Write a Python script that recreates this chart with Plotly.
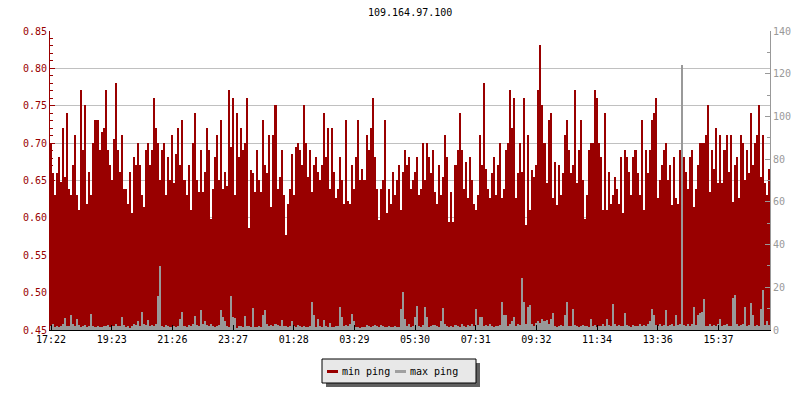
import plotly.graph_objects as go

TITLE = "109.164.97.100"
RED = "#990000"
GREY = "#999999"
FONT = "DejaVu Sans Mono"

# min ping in seconds x 1000 (left axis), one value per sample
min_ping_ms = [
    700, 660, 630, 660, 682, 648, 720, 655, 740, 639, 630, 671, 711, 630, 610, 771, 691, 751, 619, 662,
    630, 700, 731, 731, 691, 715, 720, 771, 691, 671, 651, 706, 780, 691, 662, 711, 639, 639, 619, 662,
    606, 682, 671, 700, 671, 630, 615, 691, 700, 671, 691, 760, 720, 700, 651, 691, 700, 630, 682, 651,
    711, 646, 686, 720, 671, 731, 651, 630, 671, 610, 700, 740, 651, 635, 691, 635, 662, 720, 691, 599,
    639, 682, 711, 651, 731, 639, 662, 642, 771, 695,
    760, 630, 740, 682, 720, 691, 700, 760, 586, 664, 660, 635, 691, 651, 635, 731, 671, 660, 711, 615,
    711, 751, 639, 655, 691, 630, 577, 619, 639, 686, 630, 695, 700, 691, 671, 751, 700, 655, 691, 635,
    671, 682, 662, 651, 671, 740, 682, 720, 639, 720, 662, 626, 639, 682, 651, 619, 731, 622, 619, 671,
    639, 682, 731, 651, 666, 651, 711, 691, 720, 760, 682, 639, 597, 639, 651, 731, 606, 639, 619, 662,
    630, 651, 671, 610, 662, 691, 671, 682, 639,
    651, 662, 682, 630, 639, 700, 651, 700, 682, 660, 691, 635, 619, 671, 630, 655, 711, 682, 595, 635,
    595, 671, 691, 740, 691, 639, 675, 626, 682, 651, 619, 610, 630, 711, 671, 780, 666, 639, 626, 660,
    682, 630, 671, 700, 626, 639, 691, 700, 771, 720, 760, 626, 660, 700, 662, 760, 590, 711, 610, 664,
    655, 671, 771, 831, 751, 700, 646, 731, 740, 626, 675, 617, 671, 630, 660, 711, 731, 691, 660, 671,
    771, 646, 691, 731, 651, 599, 630, 691, 700,
    700, 771, 760, 700, 682, 610, 740, 610, 662, 619, 630, 655, 639, 619, 682, 606, 691, 682, 662, 630,
    682, 691, 660, 630, 731, 610, 691, 660, 691, 731, 740, 760, 626, 651, 671, 691, 700, 651, 671, 617,
    682, 626, 619, 691, 630, 682, 662, 639, 682, 691, 615, 639, 671, 700, 700, 700, 711, 751, 635, 691,
    666, 720, 646, 711, 646, 691, 711, 662, 711, 621, 671, 682, 626, 711, 700, 651, 691, 660, 740, 671,
    700, 711, 751, 655, 711, 646, 630, 666,
]
min_ping = [v / 1000 for v in min_ping_ms]

# max ping (right axis)
max_ping = [
    2, 3, 1.5, 2, 1.5, 2, 3, 5.5, 2, 2, 7, 3, 2, 5, 2.5, 1.5, 2, 2.5, 1.5, 2,
    7.3, 2, 1.5, 2, 1.5, 1.5, 2, 2, 2.5, 1.5, 2, 2, 3, 2, 2, 6, 2.5, 1.5, 2, 1,
    2, 3, 2.5, 4, 2, 8.4, 3, 2.5, 4.7, 2, 2.5, 2, 3, 16, 30, 2, 1.5, 2.5, 2, 1.5,
    1.5, 2, 1.5, 2, 5, 8.6, 2, 1.5, 2.5, 2, 3, 6.4, 2.5, 2, 9.4, 3, 4, 2.5, 2, 3,
    2, 1.5, 2, 2.5, 9.4, 6, 4, 2, 1.5, 16, 6, 5.5, 1, 2, 2, 1.5, 6.4, 2, 2, 1.5,
    10.5, 1.5, 1.5, 2, 1.5, 7, 9.4, 3, 2, 2.5, 2, 3, 2.5, 2, 4.7, 2, 2, 1.5, 2,
    4, 2, 1.5, 2.5, 2, 1.5, 2, 1.5, 1.5, 2, 13.2, 7.2, 1.5, 5, 2, 1.5, 4.5, 2, 1.5, 3.5,
    1.5, 1.5, 2, 2, 10.8, 6, 2, 2.5, 2, 3, 7.3, 4, 1.5, 1.5, 1, 1.5, 1.5, 2.5, 2, 1.5,
    2, 2.5, 2, 1.5, 2.5, 2, 1.5, 1.5, 2, 1.5, 1.5, 2, 1.5, 1.5, 9.9, 17.9, 5, 2, 3, 1.5,
    2, 6, 11.2, 2, 1.5, 2.5, 10.8, 6, 1.5, 2, 2.5, 2.5, 2, 1.5, 4, 10.5, 3, 2, 1.5, 2,
    1.5, 2.5, 2, 1.5, 3, 2, 1.5, 2.5, 2, 3, 2, 9.9, 2.5, 6, 6, 2, 2.5, 2, 3,
    2, 1.5, 2, 2, 2.5, 13.2, 7, 7, 2, 3, 4, 6, 2, 3, 2.5, 24.5, 13.2, 3, 10.8, 11.9,
    3, 2, 3.5, 4, 3.5, 5, 4, 4.5, 3, 5, 8, 2, 1.5, 2, 2.5, 2, 7, 13.2, 2, 2,
    9.9, 2.5, 2, 1.5, 2, 2.5, 2, 2, 1.5, 5, 2, 2.5, 1.5, 2, 2, 3, 2, 5, 2.5, 2,
    12, 3, 2, 2.5, 2, 2, 8, 2.5, 2, 1.5, 2.5, 2, 2, 3, 2, 2.5, 2, 3, 4,
    9.9, 7, 2.5, 2, 3, 2, 2.5, 9.4, 2, 2.5, 3, 2, 7, 2.5, 3, 124, 2.5, 2, 3, 2,
    3, 11, 2.5, 7, 8, 8.5, 14.5, 2, 2, 3, 2, 2.5, 2, 3, 5, 2, 2.5, 3, 2, 2,
    15, 16.4, 3, 2, 2.5, 3, 11, 2, 2.5, 12.5, 7, 2, 2.5, 2, 10, 18.7, 2.5, 4, 2.5,
]

tick_labels = ["17:22", "19:23", "21:26", "23:27", "01:28", "03:29",
               "05:30", "07:31", "09:32", "11:34", "13:36", "15:37"]
TICK_EVERY = 30

n = len(min_ping)
x = list(range(n))

fig = go.Figure()
fig.add_bar(x=x, y=min_ping, width=1, marker=dict(color=RED, line=dict(width=0)),
            name="min ping", showlegend=False)
fig.add_bar(x=x, y=max_ping[:n], width=1, marker=dict(color=GREY, line=dict(width=0)),
            name="max ping", yaxis="y2", showlegend=False)

# the page body adds an 8px offset; plot area on the page: x 50..770, y 31..330
OFF = 8
L, R, T, B = 50, 770, 31, 330


def px(xp):
    return (xp - L) / (R - L)


def py(yp):
    return (B - yp) / (B - T)


# hand-drawn legend box with shadow
fig.add_shape(type="rect", xref="paper", yref="paper",
              x0=px(326), x1=px(480), y0=py(363), y1=py(387),
              fillcolor="#606060", line=dict(width=0), layer="above")
fig.add_shape(type="rect", xref="paper", yref="paper",
              x0=px(322), x1=px(476), y0=py(359), y1=py(383),
              fillcolor="#e8e8e8", line=dict(color="black", width=1), layer="above")
for x0, color, label in [(327, RED, "min ping"), (395, "#a0a0a0", "max ping")]:
    fig.add_shape(type="line", xref="paper", yref="paper",
                  x0=px(x0), x1=px(x0 + 11), y0=py(371.5), y1=py(371.5),
                  line=dict(color=color, width=3), layer="above")
    fig.add_annotation(xref="paper", yref="paper", x=px(x0 + 13), y=py(371),
                       text=label, showarrow=False, xanchor="left", yanchor="middle",
                       font=dict(family=FONT, size=10, color="black"))

fig.add_annotation(xref="paper", yref="paper", x=px(410), y=py(12), text=TITLE,
                   showarrow=False, xanchor="center", yanchor="middle",
                   font=dict(family=FONT, size=10, color="black"))

fig.update_layout(
    width=800, height=400,
    margin=dict(l=L - OFF, r=800 - R + OFF, t=T - OFF, b=400 - B + OFF),
    paper_bgcolor="white", plot_bgcolor="white",
    barmode="overlay", bargap=0,
    showlegend=False,
    font=dict(family=FONT, size=10, color="black"),
    xaxis=dict(range=[-0.5, n - 0.5], tickmode="array",
               tickvals=[i * TICK_EVERY for i in range(len(tick_labels))],
               ticktext=tick_labels, ticks="inside", ticklen=5, tickcolor="black",
               showline=True, linecolor="black", linewidth=1, showgrid=False,
               zeroline=False, tickfont=dict(family=FONT, size=10, color="black")),
    yaxis=dict(range=[0.45, 0.85], dtick=0.05, tick0=0.45, tickformat=".2f",
               ticks="inside", ticklen=5, tickcolor=RED, showline=True,
               linecolor=RED, linewidth=1, gridcolor="#c0c0c0", gridwidth=1,
               zeroline=False, tickfont=dict(family=FONT, size=10, color=RED),
               minor=dict(dtick=0.01, ticks="inside", ticklen=3, tickcolor=RED,
                          showgrid=False)),
    yaxis2=dict(range=[0, 140], dtick=20, overlaying="y", side="right",
                ticks="inside", ticklen=5, tickcolor=GREY, showline=True,
                linecolor=GREY, linewidth=1, showgrid=False, zeroline=False,
                tickfont=dict(family=FONT, size=10, color=GREY),
                minor=dict(dtick=10, ticks="inside", ticklen=3, tickcolor=GREY)),
)

fig.write_html("out.html")
